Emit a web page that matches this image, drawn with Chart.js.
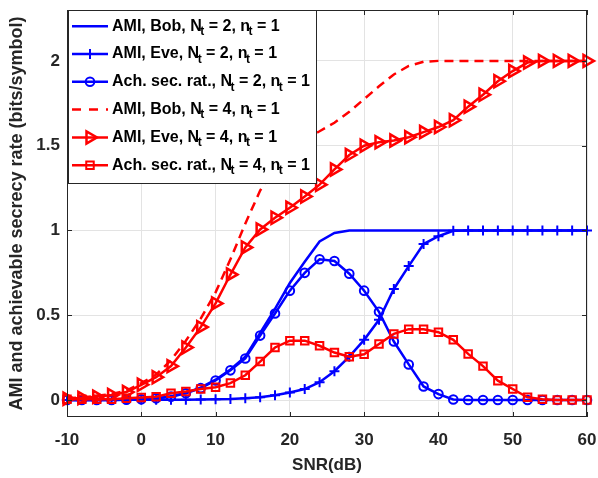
<!DOCTYPE html>
<html><head><meta charset="utf-8">
<script src="https://cdn.jsdelivr.net/npm/chart.js@4/dist/chart.umd.min.js"></script>
<style>html,body{margin:0;padding:0;background:#fff;} #wrap{width:598px;height:478px;}</style>
</head><body><div id="wrap"><canvas id="c" width="598" height="478"></canvas></div>
<script>
// ---- data ----
const snr = [-10,-8,-6,-4,-2,0,2,4,6,8,10,12,14,16,18,20,22,24,26,28,30,32,34,36,38,40,42,44,46,48,50,52,54,56,58,60];
const amiBob2 = [0,0,0,0.001,0.003,0.006,0.011,0.022,0.042,0.073,0.12,0.18,0.255,0.396,0.538,0.69,0.815,0.935,0.985,1,1,1,1,1,1,1,1,1,1,1,1,1,1,1,1,1];
const amiEve2 = [0,0,0,0,0.001,0.001,0.001,0.002,0.002,0.003,0.004,0.006,0.01,0.016,0.028,0.045,0.065,0.105,0.17,0.256,0.355,0.473,0.655,0.79,0.92,0.966,0.998,1,1,1,1,1,1,1,1,1];
const secRate2 = [0,0,0,0,0.002,0.005,0.01,0.02,0.04,0.07,0.115,0.175,0.245,0.38,0.51,0.645,0.75,0.83,0.82,0.745,0.645,0.52,0.345,0.21,0.08,0.035,0.003,0,0,0,0,0,0,0,0,0];
const amiBob4 = [0.01,0.015,0.025,0.035,0.055,0.1,0.15,0.235,0.35,0.48,0.635,0.83,1.04,1.235,1.385,1.47,1.54,1.585,1.635,1.7,1.775,1.85,1.92,1.97,1.995,2,2,2,2,2,2,2,2,2,2,2];
const amiEve4 = [0.008,0.012,0.02,0.03,0.047,0.09,0.135,0.2,0.31,0.43,0.57,0.74,0.9,1.006,1.075,1.134,1.2,1.27,1.36,1.445,1.5,1.52,1.53,1.55,1.58,1.61,1.65,1.73,1.8,1.88,1.94,1.99,2,2,2,2];
const secRate4 = [0.005,0.005,0.005,0.005,0.01,0.015,0.02,0.04,0.05,0.065,0.075,0.1,0.146,0.227,0.31,0.35,0.35,0.32,0.28,0.256,0.27,0.33,0.39,0.418,0.418,0.4,0.355,0.272,0.2,0.114,0.065,0.016,0.004,0,0,0];
const seriesLabels = [
  'AMI, Bob, N_t = 2, n_t = 1',
  'AMI, Eve, N_t = 2, n_t = 1',
  'Ach. sec. rat., N_t = 2, n_t = 1',
  'AMI, Bob, N_t = 4, n_t = 1',
  'AMI, Eve, N_t = 4, n_t = 1',
  'Ach. sec. rat., N_t = 4, n_t = 1'
];
const xTicks = [-10,0,10,20,30,40,50,60];
const yTicks = [0,0.5,1,1.5,2];
const xTitle = 'SNR(dB)';
const yTitle = 'AMI and achievable secrecy rate (bits/symbol)';

// ---- build chart ----
const BLUE = '#0000ff', RED = '#ff0000', AXC = '#262626';
const FONT = "'Liberation Sans', Arial, Helvetica, sans-serif";
const pts = ys => snr.map((x,i)=>({x:x, y:ys[i]}));
const styles = [
  {c:BLUE, dash:[], ps:false, r:0, bw:2},
  {c:BLUE, dash:[], ps:'cross', r:5, rot:0, bw:2},
  {c:BLUE, dash:[], ps:'circle', r:4.3, rot:0, bw:2},
  {c:RED, dash:[9,6], ps:false, r:0, bw:2},
  {c:RED, dash:[], ps:'triangle', r:7, rot:90, bw:2.5},
  {c:RED, dash:[], ps:'rect', r:5.3, rot:0, bw:2}
];
const series = [amiBob2, amiEve2, secRate2, amiBob4, amiEve4, secRate4];
const datasets = series.map((ys,i)=>{
  const s = styles[i];
  return {
    label: seriesLabels[i],
    data: pts(ys),
    borderColor: s.c,
    backgroundColor: 'rgba(0,0,0,0)',
    borderWidth: 2.5,
    borderDash: s.dash,
    pointStyle: s.ps,
    pointRadius: s.r,
    pointRotation: s.rot || 0,
    pointBorderWidth: s.bw,
    pointBorderColor: s.c,
    pointBackgroundColor: 'rgba(0,0,0,0)',
    tension: 0,
    clip: false,
    order: series.length - i
  };
});

function drawRich(ctx, text, x, y, font, subFont){
  const parts = text.split('_t');
  parts.forEach((p,i)=>{
    ctx.font = font; ctx.fillText(p, x, y); x += ctx.measureText(p).width;
    if (i < parts.length-1){ ctx.font = subFont; ctx.fillText('t', x-1.5, y+5.5); x += ctx.measureText('t').width - 1.5; }
  });
  return x;
}

const framePlugin = {
  id:'frame',
  afterDatasetsDraw(chart){
    const {ctx, chartArea:a, scales:{x, y}} = chart;
    ctx.save();
    ctx.strokeStyle = AXC; ctx.lineWidth = 1;
    ctx.strokeRect(Math.round(a.left)+0.5, Math.round(a.top)+0.5, Math.round(a.right-a.left)-1, Math.round(a.bottom-a.top)-1);
    ctx.beginPath();
    const tl = 5;
    xTicks.forEach(v=>{ const px = Math.round(x.getPixelForValue(v))+0.5;
      ctx.moveTo(px, a.bottom); ctx.lineTo(px, a.bottom-tl);
      ctx.moveTo(px, a.top); ctx.lineTo(px, a.top+tl); });
    yTicks.forEach(v=>{ const py = Math.round(y.getPixelForValue(v))+0.5;
      ctx.moveTo(a.left, py); ctx.lineTo(a.left+tl, py);
      ctx.moveTo(a.right, py); ctx.lineTo(a.right-tl, py); });
    ctx.stroke();
    ctx.restore();
  },
  afterDraw(chart){
    const {ctx, chartArea:a} = chart;
    const font = "bold 16px " + FONT, subFont = "bold 12px " + FONT;
    const x0 = a.left + 1, y0 = a.top, h = 173;
    ctx.save();
    let maxW = 0;
    seriesLabels.forEach(t=>{
      const parts = t.split('_t'); let w = 0;
      parts.forEach((p,i)=>{ ctx.font=font; w+=ctx.measureText(p).width; if(i<parts.length-1){ctx.font=subFont; w+=ctx.measureText('t').width-1.5;} });
      maxW = Math.max(maxW, w);
    });
    const w = 44 + maxW + 6;
    ctx.fillStyle = '#fff'; ctx.fillRect(x0, y0, w, h);
    ctx.strokeStyle = AXC; ctx.lineWidth = 1; ctx.strokeRect(Math.round(x0)+0.5, Math.round(y0)+0.5, Math.round(w), h);
    const rowH = 27.8;
    chart.data.datasets.forEach((ds,i)=>{
      const cy = y0 + 16.2 + i*rowH;
      const lx0 = x0 + 4, lx1 = x0 + 40;
      ctx.strokeStyle = ds.borderColor; ctx.lineWidth = 2.5;
      ctx.setLineDash(ds.borderDash && ds.borderDash.length ? [9,8] : []);
      ctx.beginPath(); ctx.moveTo(lx0, cy); ctx.lineTo(lx1, cy); ctx.stroke();
      ctx.setLineDash([]);
      if (ds.pointStyle){
        ctx.fillStyle = 'rgba(0,0,0,0)'; ctx.lineWidth = ds.pointBorderWidth;
        Chart.helpers.drawPoint(ctx, {pointStyle: ds.pointStyle, rotation: ds.pointRotation, radius: ds.pointRadius, borderWidth: ds.pointBorderWidth}, (lx0+lx1)/2, cy);
      }
      ctx.fillStyle = '#000'; ctx.textBaseline = 'middle'; ctx.textAlign = 'left';
      drawRich(ctx, seriesLabels[i], x0 + 44, cy, font, subFont);
    });
    ctx.restore();
  }
};

const zeroPad = s => { s.paddingTop = 0; s.paddingBottom = 0; s.paddingLeft = 0; s.paddingRight = 0; };

new Chart(document.getElementById('c'), {
  type: 'line',
  data: { datasets },
  options: {
    responsive: false, animation: false, devicePixelRatio: 1,
    layout: { padding: { top: 10, right: 11, left: 0, bottom: 0 } },
    plugins: { legend: { display: false }, tooltip: { enabled: false } },
    scales: {
      x: {
        type: 'linear', min: -10, max: 60,
        afterBuildTicks: s => { s.ticks = xTicks.map(v=>({value:v})); },
        afterFit: s => { s.height = 61; zeroPad(s); },
        grid: { color: '#e3e3e3', lineWidth: 1, drawTicks: false },
        border: { display: false },
        ticks: { color: AXC, font: { family: FONT, size: 17, weight: 'bold' }, padding: 13, maxRotation: 0 },
        title: { display: true, text: xTitle, color: AXC, font: { family: FONT, size: 17, weight: 'bold' }, padding: { top: 0, bottom: 2 } }
      },
      y: {
        type: 'linear', min: -0.1, max: 2.3,
        afterBuildTicks: s => { s.ticks = yTicks.map(v=>({value:v})); },
        afterFit: s => { s.width = 67; zeroPad(s); },
        grid: { color: '#e3e3e3', lineWidth: 1, drawTicks: false },
        border: { display: false },
        ticks: { color: AXC, font: { family: FONT, size: 17, weight: 'bold' }, padding: 7, callback: v => String(v) },
        title: { display: true, text: yTitle, color: AXC, font: { family: FONT, size: 18, weight: 'bold' }, padding: { top: 6, bottom: 0 } }
      }
    }
  },
  plugins: [framePlugin]
});
</script></body></html>
